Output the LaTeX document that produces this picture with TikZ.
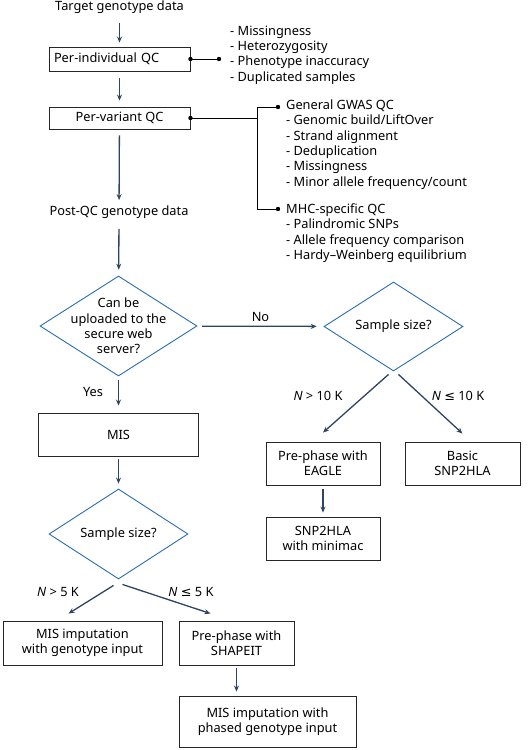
\documentclass[tikz,border=0pt]{standalone}
\usepackage{fontspec}
\setmainfont{Noto Sans}
\newfontfamily\symfont{DejaVu Sans}
\usetikzlibrary{shapes.geometric,arrows.meta}
\definecolor{flowarrow}{HTML}{2D4463}
\definecolor{flowblue}{HTML}{2B6CB3}

\begin{document}
\begin{tikzpicture}[x=1pt, y=-1pt, font=\fontsize{12.8}{15.3}\selectfont,
  stepbox/.style={draw=black!85, line width=0.9pt, inner sep=0pt, align=center},
  decision/.style={shape=diamond, draw=flowblue, line width=0.9pt, inner sep=0pt},
  flow/.style={draw=flowarrow, line width=1.3pt, -{Stealth[length=6pt,width=5pt]}},
  lead/.style={line width=1pt},
  plain/.style={inner sep=0pt, align=left}]
\useasboundingbox (0,0) rectangle (528,750);

\node (target) at (119.5,7) {Target genotype data};
\node[stepbox, minimum width=141, minimum height=24, text width=131, align=left] (indiv) at (119.5,59) {Per-individual QC};
\node[stepbox, minimum width=141, minimum height=22] (variant) at (119.5,118) {Per-variant QC};
\node (postqc) at (119,212) {Post-QC genotype data};

\coordinate (indivdot) at (219,59);
\coordinate (split) at (257,118);
\coordinate (splittop) at (257,107);
\coordinate (splitbot) at (257,209);
\coordinate (gwasdot) at (278,107);
\coordinate (mhcdot) at (278,209);

\node[plain, anchor=west] (indivlist) at (230,55) {- Missingness\\- Heterozygosity\\- Phenotype inaccuracy\\- Duplicated samples};
\node[plain, anchor=west] (gwaslist) at (286,144.5) {General GWAS QC\\- Genomic build/LiftOver\\- Strand alignment\\- Deduplication\\- Missingness\\- Minor allele frequency/count};
\node[plain, anchor=west] (mhclist) at (286,233) {MHC-specific QC\\- Palindromic SNPs\\- Allele frequency comparison\\- Hardy\textendash Weinberg equilibrium};

\node[decision, minimum width=157, minimum height=100] (upload) at (118.5,326) {};
\node[align=center, inner sep=0pt] (uploadtxt) at (upload.center) {Can be\\uploaded to the\\secure web\\server?};
\node[decision, minimum width=139, minimum height=89] (sizeB) at (393.5,326.5) {Sample size?};
\node[stepbox, minimum width=160, minimum height=43] (mis) at (118.5,434.5) {MIS};
\node[decision, minimum width=139, minimum height=90] (sizeA) at (118.5,534) {Sample size?};

\node[stepbox, minimum width=114, minimum height=43] (eagle) at (323,463.5) {Pre-phase with\\EAGLE};
\node[stepbox, minimum width=115, minimum height=43] (basic) at (462.5,463.5) {Basic\\SNP2HLA};
\node[stepbox, minimum width=114, minimum height=43] (minimac) at (323,538.5) {SNP2HLA\\with minimac};

\node[stepbox, minimum width=159, minimum height=44] (geno) at (82.5,643) {MIS imputation\\with genotype input};
\node[stepbox, minimum width=115, minimum height=44] (shapeit) at (236.5,643) {Pre-phase with\\SHAPEIT};
\node[stepbox, minimum width=177, minimum height=51] (phased) at (267.5,721.5) {MIS imputation with\\phased genotype input};

\draw[flow, shorten <=6pt, shorten >=4pt] (target) -- (indiv);
\draw[flow, shorten <=7pt, shorten >=6pt] (indiv) -- (variant);
\draw[flow, shorten <=6pt, shorten >=2pt] (variant) -- (postqc);
\draw[flow, shorten <=7pt, shorten >=6pt] (postqc) -- (upload);
\draw[flow, shorten <=4pt, shorten >=7pt] (upload) -- (mis);
\draw[flow, shorten <=3pt, shorten >=5pt] (mis) -- (sizeA);
\draw[flow, shorten <=5pt, shorten >=7pt] (upload) -- node[above=1pt, black] {No} (sizeB);
\draw[flow] ([xshift=-5pt,yshift=-3pt]sizeB.south) -- ([yshift=9pt]eagle.north);
\draw[flow] ([xshift=5pt,yshift=-3pt]sizeB.south) -- ([yshift=8pt]basic.north);
\draw[flow, shorten <=4pt, shorten >=4pt] (eagle) -- (minimac);
\draw[flow] ([xshift=-5pt,yshift=-6pt]sizeA.south) -- ([xshift=-14pt,yshift=7pt]geno.north);
\draw[flow] ([xshift=4pt,yshift=-5pt]sizeA.south) -- ([xshift=-26pt,yshift=7pt]shapeit.north);
\draw[flow, shorten <=3pt, shorten >=4pt] (shapeit.south) -- (shapeit.south |- phased.north);

\node (yes) at (93,392) {Yes};
\node (bigB) at (318,396) {\textit{N} > 10 K};
\node (smallB) at (458,396) {\textit{N} {\symfont ≤} 10 K};
\node (bigA) at (58,592) {\textit{N} > 5 K};
\node (smallA) at (191,592) {\textit{N} {\symfont ≤} 5 K};

\draw[lead] (indiv.east) -- (indivdot);
\draw[lead] (variant.east) -- (split);
\draw[lead] (splittop) -- (splitbot);
\draw[lead] (splittop) -- (gwasdot);
\draw[lead] (splitbot) -- (mhcdot);
\fill (indiv.east) circle (2.2);
\fill (indivdot) circle (2.2);
\fill (variant.east) circle (2.2);
\fill (gwasdot) circle (2.2);
\fill (mhcdot) circle (2.2);
\end{tikzpicture}
\end{document}
